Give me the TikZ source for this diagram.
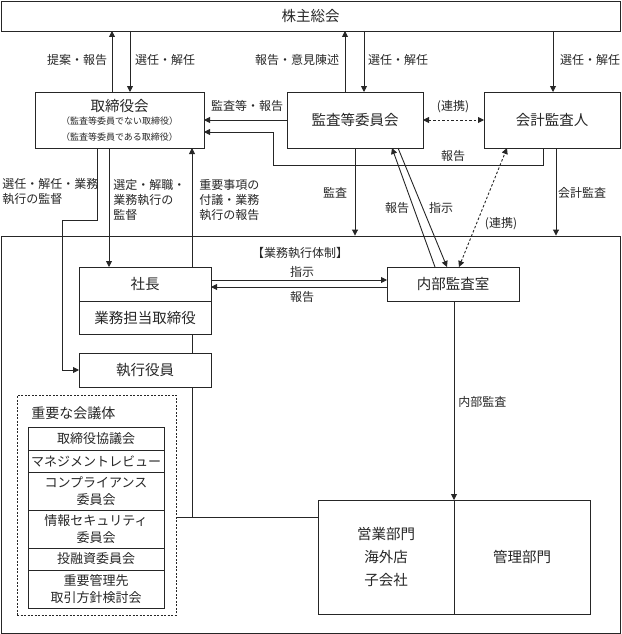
\documentclass[tikz,border=0pt]{standalone}
\usepackage{fontspec}
\setmainfont{Noto Sans CJK JP}
\usetikzlibrary{arrows.meta}
\newcommand\mainfs{\fontsize{14.5}{23}\selectfont}
\newcommand\lblfs{\fontsize{12}{15}\selectfont}
\newcommand\mtgfs{\fontsize{13}{17}\selectfont}
\newcommand\tinyfs{\fontsize{9}{14}\selectfont}
\tikzset{
  box/.style={draw, inner sep=0pt, outer sep=0pt, align=center, font=\mainfs},
  mtg/.style={draw, inner sep=0pt, outer sep=0pt, align=center, font=\mtgfs, minimum width=136pt},
  lbl/.style={inner sep=0pt, font=\lblfs},
  arr/.style={-{Triangle[length=6pt,width=6pt]}},
  darr/.style={{Triangle[length=6pt,width=6pt]}-{Triangle[length=6pt,width=6pt]}, dash pattern=on 2.5pt off 2pt},
}
\begin{document}
\begin{tikzpicture}[x=1pt,y=-1pt,line width=0.9pt,color=black!85]
\useasboundingbox (0,0) rectangle (621,634);
% main boxes
\node[box, minimum width=619pt, minimum height=30pt] (gm) at (310.5,16) {株主総会};
\node[box, minimum width=169pt, minimum height=56pt, font=\tinyfs] (bod) at (119.5,120)
  {{\mainfs 取締役会}\\[-1pt]（監査等委員でない取締役）\\[2pt]（監査等委員である取締役）};
\node[box, minimum width=136pt, minimum height=56pt] (ac) at (355,120) {監査等委員会};
\node[box, minimum width=136pt, minimum height=56pt] (ca) at (552,120) {会計監査人};
\node[draw, minimum width=619pt, minimum height=397pt, inner sep=0pt] (exec) at (310.5,434.5) {};
\node[box, minimum width=132pt, minimum height=34pt] (pres) at (145,284) {社長};
\node[box, minimum width=132pt, minimum height=33pt] (dir) at (145,317.5) {業務担当取締役};
\node[box, minimum width=132pt, minimum height=34pt] (eo) at (145,370) {執行役員};
\node[box, minimum width=132pt, minimum height=34pt] (ia) at (453,284) {内部監査室};
\node[box, minimum width=136pt, minimum height=114pt] (sales) at (386,557) {営業部門\\海外店\\子会社};
\node[box, minimum width=136pt, minimum height=114pt] (admin) at (522,557) {管理部門};
% meeting bodies
\node[draw, dash pattern=on 2pt off 1.5pt, line width=0.8pt, minimum width=159pt, minimum height=220pt, inner sep=0pt] (meet) at (96.5,505) {};
\node[inner sep=0pt, anchor=west, font=\fontsize{14}{17}\selectfont] (meett) at (31,413) {重要な会議体};
\node[mtg, minimum height=23pt] (m1) at (96,438.5) {取締役協議会};
\node[mtg, minimum height=22pt] (m2) at (96,461) {マネジメントレビュー};
\node[mtg, minimum height=38pt] (m3) at (96,491) {コンプライアンス\\委員会};
\node[mtg, minimum height=38pt] (m4) at (96,529) {情報セキュリティ\\委員会};
\node[mtg, minimum height=22pt] (m5) at (96,559) {投融資委員会};
\node[mtg, minimum height=38pt] (m6) at (96,589) {重要管理先\\取引方針検討会};
% labels
\node[lbl] (l1) at (77,60) {提案・報告};
\node[lbl] (l2) at (165,60) {選任・解任};
\node[lbl] (l3) at (297,60) {報告・意見陳述};
\node[lbl] (l4) at (398,60) {選任・解任};
\node[lbl] (l5) at (590,60) {選任・解任};
\node[lbl] (l6) at (247,106) {監査等・報告};
\node[lbl] (l7) at (453,107) {(連携)};
\node[lbl] (l8) at (453,156) {報告};
\node[lbl, align=left, anchor=west] (l9) at (2,192) {選任・解任・業務\\執行の監督};
\node[lbl, align=left, anchor=west] (l10) at (113,200) {選定・解職・\\業務執行の\\監督};
\node[lbl, align=left, anchor=west] (l11) at (199,200) {重要事項の\\付議・業務\\執行の報告};
\node[lbl] (l12) at (335,193) {監査};
\node[lbl] (l13) at (582,193) {会計監査};
\node[lbl] (l14) at (397,208) {報告};
\node[lbl] (l15) at (441,208) {指示};
\node[lbl] (l16) at (501,224) {(連携)};
\node[lbl] (l17) at (300,253) {【業務執行体制】};
\node[lbl] (l18) at (302,272) {指示};
\node[lbl] (l19) at (302,297) {報告};
\node[lbl, anchor=west] (l20) at (458,402) {内部監査};
% coordinates
\coordinate (r1) at (543,165);
\coordinate (r2) at (273,165);
\coordinate (r3) at (273,132);
\coordinate (b1) at (97,220);
\coordinate (b2) at (62,220);
\coordinate (j) at (192,517);
% connectors
\draw[arr] (112,0 |- bod.north) -- (112,0 |- gm.south);
\draw[arr] (130,0 |- gm.south) -- (130,0 |- bod.north);
\draw[arr] (345,0 |- ac.north) -- (345,0 |- gm.south);
\draw[arr] (364,0 |- gm.south) -- (364,0 |- ac.north);
\draw[arr] (553,0 |- gm.south) -- (553,0 |- ca.north);
\draw[arr] (ac.west) -- (bod.east);
\draw[arr] (r1 |- ca.south) -- (r1) -- (r2) -- (r3) -- (bod.east |- r3);
\draw[darr] (ac.east) -- (ca.west);
\draw[arr] (355,0 |- ac.south) -- (355,0 |- exec.north);
\draw[arr] (556,0 |- ca.south) -- (556,0 |- exec.north);
\draw[arr] (435,0 |- ia.north) -- (392,0 |- ac.south);
\draw[arr] (398,0 |- ac.south) -- (447,0 |- ia.north);
\draw[darr] (459,0 |- ia.north) -- (507,0 |- ca.south);
\draw[arr] (b1 |- bod.south) -- (b1) -- (b2) -- (b2 |- eo.west) -- (eo.west);
\draw[arr] (109,0 |- bod.south) -- (109,0 |- pres.north);
\draw[arr] (j |- pres.north) -- (j |- bod.south);
\draw (j |- dir.south) -- (j |- eo.north);
\draw (j |- eo.south) -- (j);
\draw (meet.east |- j) -- (sales.west |- j);
\draw[arr] (pres.east |- 0,280) -- (ia.west |- 0,280);
\draw[arr] (ia.west |- 0,287) -- (pres.east |- 0,287);
\draw[arr] (454,0 |- ia.south) -- (454,0 |- sales.north);
\end{tikzpicture}
\end{document}
